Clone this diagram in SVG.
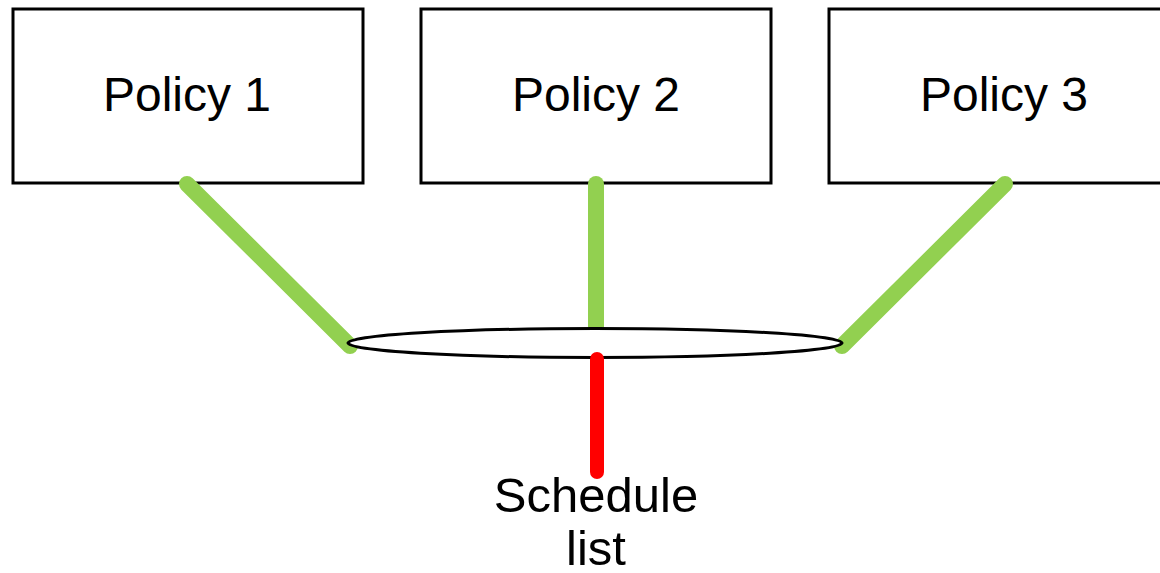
<svg xmlns="http://www.w3.org/2000/svg" width="1160" height="573" viewBox="0 0 1160 573">
  <style>
    .box { fill: #ffffff; stroke: #000000; stroke-width: 3; }
    .label { font-family: "Liberation Sans", Arial, sans-serif; font-size: 48px; fill: #000000; text-anchor: middle; }
    .caption { font-size: 49px; }
    .link { fill: none; stroke: #92d050; stroke-width: 16; stroke-linecap: round; }
    .out { fill: none; stroke: #ff0000; stroke-width: 14; stroke-linecap: round; }
    .list { fill: #ffffff; stroke: #000000; stroke-width: 3; }
  </style>
  <rect width="1160" height="573" fill="#ffffff"/>

  <g id="policy1">
    <rect class="box" x="13" y="9" width="350" height="174"/>
    <text class="label" x="187" y="111">Policy 1</text>
  </g>
  <g id="policy2">
    <rect class="box" x="421" y="9" width="350" height="174"/>
    <text class="label" x="596" y="111">Policy 2</text>
  </g>
  <g id="policy3">
    <rect class="box" x="829" y="9" width="350" height="174"/>
    <text class="label" x="1004" y="111">Policy 3</text>
  </g>

  <!-- connectors from each policy down to the schedule list -->
  <g id="connectors">
    <line class="link" x1="187" y1="184" x2="350" y2="346"/>
    <line class="link" x1="596" y1="184" x2="596" y2="343"/>
    <line class="link" x1="1005" y1="184" x2="842" y2="346"/>
  </g>

  <g id="schedule-list">
    <ellipse class="list" cx="595" cy="343" rx="247" ry="14.5"/>
    <line class="out" x1="597" y1="359" x2="597" y2="472"/>
    <text class="label caption" x="596" y="512">Schedule</text>
    <text class="label caption" x="596" y="565">list</text>
  </g>
</svg>
